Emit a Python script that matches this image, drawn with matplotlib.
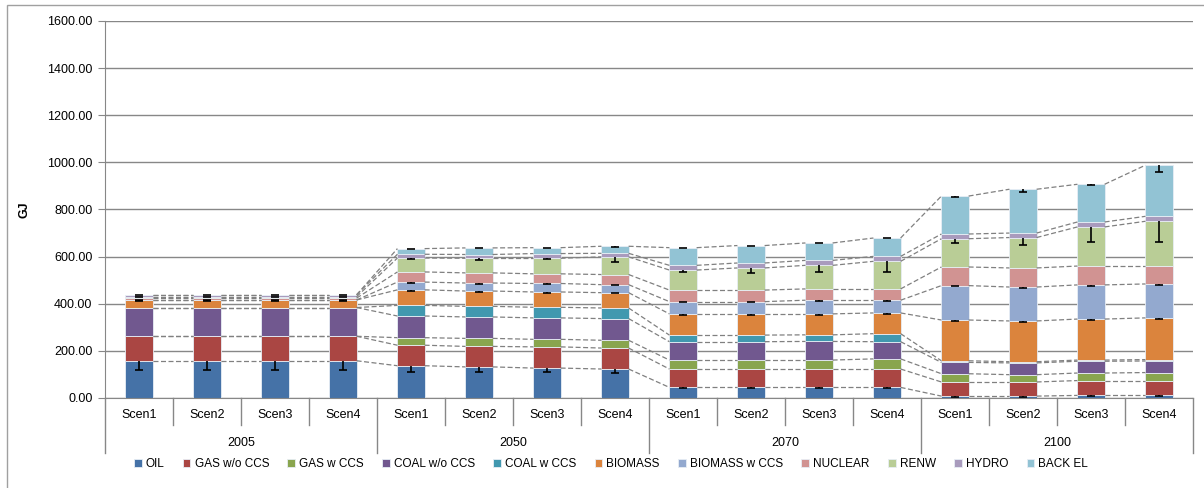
import matplotlib.pyplot as plt
import numpy as np
from matplotlib.patches import Rectangle
from matplotlib.lines import Line2D

plt.rcParams['font.family'] = ['Liberation Sans', 'DejaVu Sans']

# categories
years = ['2005', '2050', '2070', '2100']
scenarios = ['Scen1', 'Scen2', 'Scen3', 'Scen4']
series_names = ['OIL', 'GAS w/o CCS', 'GAS w CCS', 'COAL w/o CCS', 'COAL w CCS', 'BIOMASS',
                'BIOMASS w CCS', 'NUCLEAR', 'RENW', 'HYDRO', 'BACK EL']
series_colors = ['#4572A7', '#AA4643', '#89A54E', '#71588F', '#4198AF', '#DB843D',
                 '#93A9CF', '#D19392', '#B9CD96', '#A99BBD', '#92C3D4']

# values (GJ), 16 bars: 2005 S1-S4, 2050 S1-S4, 2070 S1-S4, 2100 S1-S4
oil = [158, 158, 158, 158, 137, 132, 127, 123, 45, 45, 45, 45, 8, 8, 11, 11]
gas_wo = [104, 104, 104, 104, 87, 87, 90, 89, 78, 78, 78, 78, 60, 60, 63, 63]
gas_w = [0, 0, 0, 0, 32, 34, 32, 33, 38, 38, 38, 43, 35, 31, 32, 34]
coal_wo = [122, 122, 122, 122, 92, 91, 91, 92, 78, 78, 79, 73, 48, 50, 50, 49]
coal_w = [0, 0, 0, 0, 45, 45, 45, 45, 28, 28, 28, 34, 7, 5, 5, 6]
biomass = [32, 32, 32, 32, 66, 65, 65, 65, 90, 90, 89, 88, 173, 173, 174, 177]
biomass_w = [0, 0, 0, 0, 33, 34, 36, 34, 52, 52, 58, 54, 146, 144, 145, 144]
nuclear = [8, 8, 8, 8, 43, 43, 41, 43, 49, 49, 48, 48, 79, 81, 80, 76]
renw = [6, 6, 6, 6, 59, 62, 66, 75, 85, 94, 100, 117, 120, 129, 166, 190]
hydro = [8, 8, 8, 8, 16, 16, 20, 15, 20, 21, 21, 21, 20, 19, 21, 21]
back_el = [0, 0, 0, 0, 24, 28, 25, 30, 75, 74, 74, 78, 161, 186, 160, 217]

# minus-only error bars
oil_err = [40, 40, 40, 40, 27, 22, 17, 17, 3, 3, 3, 3, 2, 2, 2, 2]
biomass_err = [3, 3, 3, 3, 3, 3, 3, 3, 3, 3, 3, 3, 3, 3, 3, 3]
biomass_w_err = [2, 2, 2, 2, 3, 3, 3, 3, 3, 3, 3, 3, 3, 3, 3, 3]
renw_err = [3, 3, 3, 3, 4, 8, 5, 22, 7, 20, 28, 45, 18, 31, 65, 89]
back_el_err = [2, 2, 2, 2, 2, 2, 2, 2, 2, 2, 2, 2, 2, 12, 3, 28]

data = np.array([oil, gas_wo, gas_w, coal_wo, coal_w, biomass, biomass_w,
                 nuclear, renw, hydro, back_el], dtype=float)
errs = {0: oil_err, 5: biomass_err, 6: biomass_w_err, 8: renw_err, 10: back_el_err}

n = data.shape[1]
x = np.arange(n)
width = 0.4
tops = np.cumsum(data, axis=0)
bottoms = tops - data

fig = plt.figure(figsize=(12.04, 4.88), dpi=100)
ax = fig.add_axes([105 / 1204, 1 - 398 / 488, (1193 - 105) / 1204, (398 - 21) / 488])

grid_col = '#878787'
ax.set_ylim(0, 1600)
ax.set_xlim(-0.5, n - 0.5)
ax.set_yticks(np.arange(0, 1601, 200))
ax.set_yticklabels(['%.2f' % v for v in np.arange(0, 1601, 200)], fontsize=9)
ax.yaxis.grid(True, color=grid_col, linewidth=1)
ax.set_axisbelow(True)
ax.tick_params(axis='y', length=5, color=grid_col, pad=4)
ax.set_xticks([])
for s in ['top', 'right']:
    ax.spines[s].set_visible(False)
ax.spines['left'].set_color(grid_col)
ax.spines['bottom'].set_color(grid_col)

# stacked bars
for k in range(data.shape[0]):
    ax.bar(x, data[k], width, bottom=bottoms[k], color=series_colors[k],
           edgecolor='#e8eef5', linewidth=0.6, label=series_names[k], zorder=2)

# series lines between adjacent bars
for k in range(data.shape[0]):
    for i in range(n - 1):
        ax.plot([x[i] + width / 2, x[i + 1] - width / 2], [tops[k][i], tops[k][i + 1]],
                color='#808080', linestyle=(0, (4, 2)), linewidth=0.9, zorder=3)

# error bars (minus direction with cap)
cap = 0.06
for k, e in errs.items():
    e = np.array(e, dtype=float)
    ax.vlines(x, tops[k] - e, tops[k], color='black', linewidth=1.2, zorder=4)
    ax.hlines(tops[k] - e, x - cap, x + cap, color='black', linewidth=1.2, zorder=4)

# multi-level category axis
tr = ax.get_xaxis_transform()
for i in range(n):
    ax.text(x[i], -0.046, scenarios[i % 4], transform=tr, ha='center', va='center', fontsize=9)
for i in range(n + 1):
    y_end = -0.147 if i % 4 == 0 else -0.072
    ax.add_line(Line2D([i - 0.5, i - 0.5], [0, y_end], transform=tr, color=grid_col,
                       linewidth=1, clip_on=False))
for g in range(len(years)):
    ax.text(g * 4 + 1.5, -0.12, years[g], transform=tr, ha='center', va='center', fontsize=9)

ax.set_ylabel('GJ', fontsize=9, fontweight='bold', labelpad=12)

handles, labels = ax.get_legend_handles_labels()
fig.legend(handles, labels, loc='center', bbox_to_anchor=(611 / 1204, 1 - 464 / 488), ncol=11,
           frameon=False, fontsize=8.5, handlelength=0.65, handleheight=0.65,
           handletextpad=0.35, columnspacing=1.55)

# chart area border
fig.patches.append(Rectangle((7 / 1204, -0.01), 1.0, 1 - 5 / 488 + 0.01, transform=fig.transFigure,
                             fill=False, edgecolor='#a0a0a0', linewidth=1))

fig.savefig('out.png', dpi=100)
